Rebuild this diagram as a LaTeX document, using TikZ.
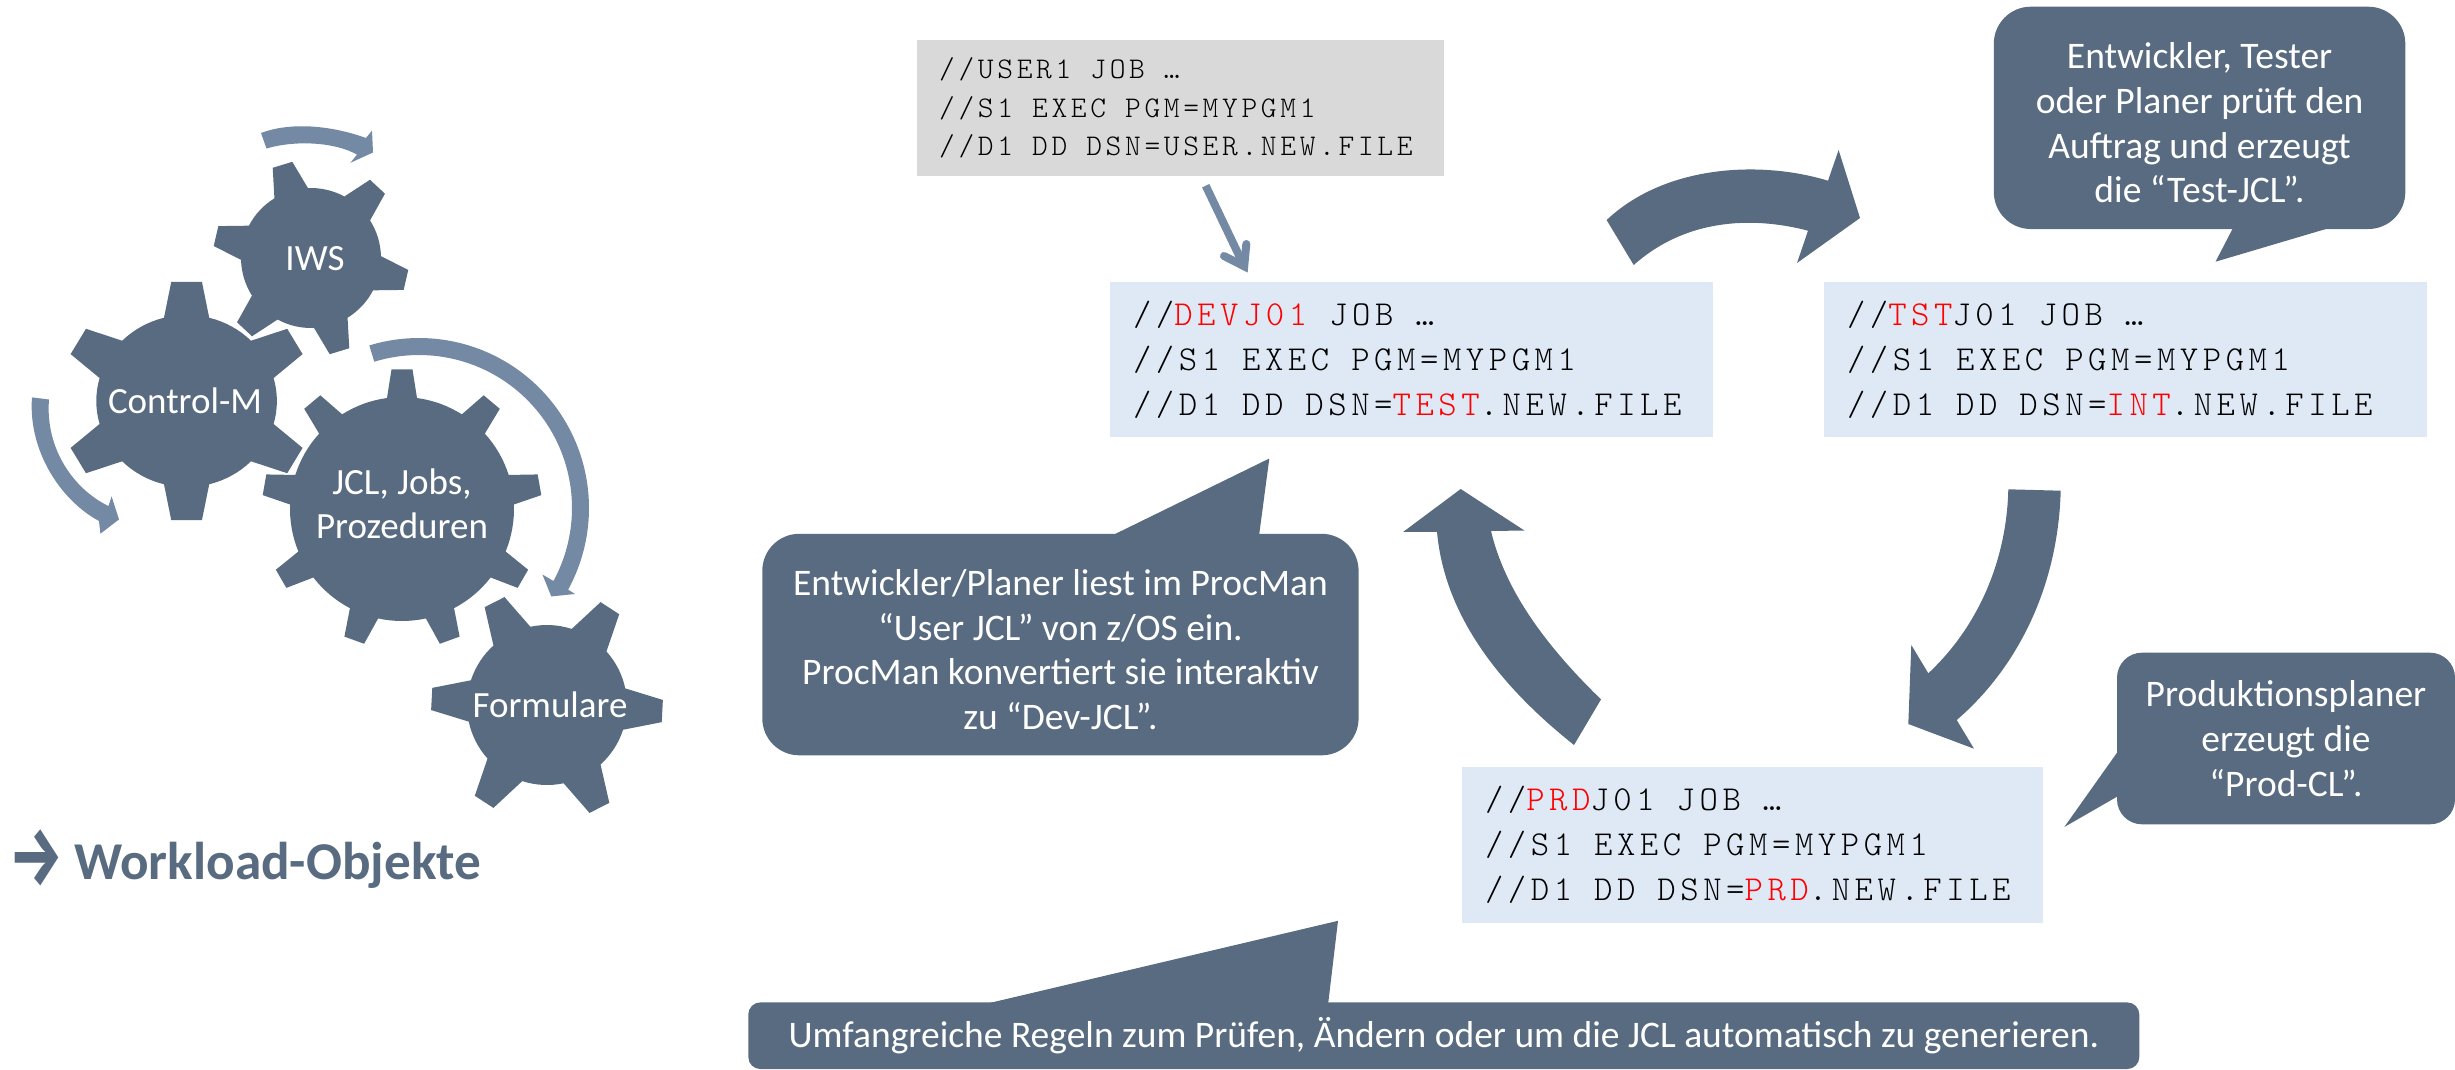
\documentclass[tikz,border=0pt]{standalone}
\usepackage{fontspec}
\setmainfont{Carlito}
\newfontfamily\codefont[LetterSpace=13]{Latin Modern Mono Light}
\newfontfamily\codefontsmall[LetterSpace=12.2]{Latin Modern Mono Light}
\newfontfamily\arrowfont{Fira Sans}
\definecolor{slate}{HTML}{586B80}
\definecolor{steel}{HTML}{7489A4}
\definecolor{paleblue}{HTML}{DEE9F5}
\definecolor{palegrey}{HTML}{D9D9D9}
\newcommand{\bigspace}{\spaceskip=22pt\relax}
\newcommand{\smallspace}{\spaceskip=19pt\relax}
\tikzset{
  darkshape/.style={fill=slate,draw=none},
  lightshape/.style={fill=steel,draw=none},
  geartext/.style={text=white,font=\fontsize{37}{44}\selectfont,align=center,inner sep=0pt},
  callout/.style={fill=slate,text=white,font=\fontsize{37.5}{44.7}\selectfont,align=center,inner sep=0pt},
  bigcode/.style={fill=paleblue,text=black,font=\codefont\fontsize{35}{45}\selectfont,align=left,inner ysep=0pt,inner xsep=23pt,execute at begin node=\bigspace},
  smallcode/.style={fill=palegrey,text=black,font=\codefontsmall\fontsize{30}{38.3}\selectfont,align=left,inner ysep=0pt,inner xsep=22.5pt,execute at begin node=\smallspace},
  headline/.style={text=slate,font=\fontsize{53.2}{60}\selectfont\bfseries,inner sep=0pt}
}
\newcommand{\gearpt}[2]{%
  \pgfmathsetmacro\gx{\gcx+\gsx*(#1)*cos(#2)}%
  \pgfmathsetmacro\gy{\gcy-(#1)*sin(#2)}%
  \xdef\gearpath{\gearpath -- (\gx,\gy)}%
}
% cx cy rbase rtip nteeth startangle halfbase halftip xscale
\newcommand{\gearblob}[9]{%
  \gdef\gcx{#1}\gdef\gcy{#2}\gdef\gsx{#9}\gdef\gearpath{}%
  \pgfmathsetmacro\gstep{360/#5}%
  \foreach \i in {1,...,#5}{%
    \pgfmathsetmacro\ga{#6+(\i-1)*\gstep}%
    \gearpt{#3}{\ga-#7}%
    \gearpt{#4}{\ga-#8}%
    \gearpt{#4}{\ga+#8}%
    \foreach \k in {0,...,8}{%
      \gearpt{#3}{\ga+#7+(\gstep-2*#7)*\k/8}%
    }%
  }%
  \pgfmathsetmacro\gfx{#1+#9*(#3)*cos(#6-#7)}%
  \pgfmathsetmacro\gfy{#2-(#3)*sin(#6-#7)}%
  \fill[darkshape] (\gfx,\gfy) \gearpath -- cycle;
}
\newcommand{\redt}[1]{\textcolor{red}{#1}}
\begin{document}
\begin{tikzpicture}[x=1pt,y=-1pt]
\useasboundingbox (0,0) rectangle (2455,1069);
% gears
\gearblob{311}{258}{70}{98}{6}{107}{14.5}{6}{1}
\gearblob{186.6}{401}{86}{120}{6}{90}{14.5}{7}{1.05}
\gearblob{402}{509}{112}{140}{9}{90}{7.7}{4.3}{1}
\gearblob{547}{705}{80}{116}{6}{57}{15}{5.5}{1}
\node[geartext] (iws) at (315,259) {IWS};
\node[geartext] (ctm) at (185,401) {Control-M};
\node[geartext] (jcl) at (402,504) {JCL, Jobs,\\Prozeduren};
\node[geartext] (frm) at (550,705) {Formulare};
% light curved arrows
\fill[lightshape] (261,133) .. controls (290,122) and (330,125) .. (366,138)
  -- (372,130.6) -- (373,152.5) -- (350.4,162.8) -- (357,154.6)
  .. controls (335,142) and (295,140) .. (266.5,148.5) -- cycle;
\fill[lightshape] (32,397.4) .. controls (28,450) and (60,500) .. (99,521)
  -- (100.4,533.7) -- (119,519.4) -- (111.6,496.4) -- (108.5,506)
  .. controls (75,490) and (45,450) .. (49,399.5) -- cycle;
\fill[lightshape] plot[domain=107:-28.7,samples=80,variable=\t] ({419+170*cos(\t)},{508-170*sin(\t)})
  -- (575,594) -- (551.3,596.4) -- (542.4,574.5)
  -- plot[domain=-28.5:107,samples=80,variable=\t] ({419+153*cos(\t)},{508-153*sin(\t)}) -- cycle;
\node[headline,anchor=base west] (wl) at (9,879) {\raisebox{-6pt}{\scalebox{1}[1.4]{\arrowfont\bfseries\fontsize{60}{60}\selectfont →}}\hspace{11pt}Workload-Objekte};
% big dark arrows
\fill[darkshape] (1606.6,220) .. controls (1665,165) and (1760,160) .. (1828,180.7)
  -- (1838.6,150) -- (1860,218) -- (1797,263) -- (1808,230.7)
  .. controls (1760,218) and (1690,215) .. (1633.7,265) -- cycle;
\fill[darkshape] (2008.3,489.3) .. controls (2007,550) and (1985,620) .. (1928.3,673.3)
  -- (1911.3,645) -- (1908.3,724) -- (1974,748.7) -- (1956.7,720)
  .. controls (2015,670) and (2058,590) .. (2060.7,490.7) -- cycle;
\fill[darkshape] (1437,531.8) .. controls (1445,620) and (1505,690) .. (1574,745)
  -- (1601,699.4) .. controls (1545,645) and (1505,590) .. (1491,531)
  -- (1524.4,530.5) -- (1460.7,489) -- (1403.3,531.8) -- cycle;
% code boxes
\node[smallcode,minimum height=135.7pt,text width=482pt] (user) at (1180.15,107.85)
  {//USER1 JOB …\\//S1 EXEC PGM=MYPGM1\\//D1 DD DSN=USER.NEW.FILE};
\node[bigcode,minimum height=154.6pt,text width=557pt] (dev) at (1411.5,359.3)
  {//\redt{DEVJ01} JOB …\\//S1 EXEC PGM=MYPGM1\\//D1 DD DSN=\redt{TEST}.NEW.FILE};
\node[bigcode,minimum height=154.6pt,text width=556.7pt] (tst) at (2125.35,359.35)
  {//\redt{TST}J01 JOB …\\//S1 EXEC PGM=MYPGM1\\//D1 DD DSN=\redt{INT}.NEW.FILE};
\node[bigcode,minimum height=155.7pt,text width=535pt] (prd) at (1752.5,844.85)
  {//\redt{PRD}J01 JOB …\\//S1 EXEC PGM=MYPGM1\\//D1 DD DSN=\redt{PRD}.NEW.FILE};
% straight connector from the user JCL to the dev JCL
\coordinate (ua) at (1205.7,185.7);
\coordinate (uv) at (1244.2,266.3);
\draw[steel,line width=8pt] (ua) -- (uv);
\draw[steel,line width=8pt,line join=miter,line cap=round] (1246.3,244) -- (uv) -- (1224,256);
% callouts
\fill[darkshape] (1111,536) -- (1269.3,458.5) -- (1259,536) -- cycle;
\node[callout,minimum width=596.3pt,minimum height=221.5pt,rounded corners=37pt] (cdev) at (1060.45,644.55)
  {\rule{0pt}{36pt}Entwickler/Planer liest im ProcMan\\“User JCL” von z/OS ein.\\ProcMan konvertiert sie interaktiv\\zu “Dev-JCL”.};
\fill[darkshape] (2234,226) -- (2215.5,261.7) -- (2336,226) -- cycle;
\node[callout,minimum width=411.5pt,minimum height=222.3pt,rounded corners=37pt] (ctst) at (2199.55,117.85)
  {\rule{0pt}{36pt}Entwickler, Tester\\oder Planer prüft den\\Auftrag und erzeugt\\die “Test-JCL”.};
\fill[darkshape] (2120,752.7) -- (2117,752.7) -- (2064.3,827) -- (2117,796.7) -- (2120,796.7) -- cycle;
\node[callout,minimum width=338pt,minimum height=171.6pt,rounded corners=25pt] (cprd) at (2286,738.5)
  {Produktionsplaner\\erzeugt die\\“Prod-CL”.};
\fill[darkshape] (981,1005) -- (1338,920.8) -- (1328,1005) -- cycle;
\node[callout,minimum width=1391pt,minimum height=66.6pt,rounded corners=12pt] (crul) at (1443.8,1035.7)
  {\raisebox{-4pt}{Umfangreiche Regeln zum Prüfen, Ändern oder um die JCL automatisch zu generieren.}};
\end{tikzpicture}
\end{document}
